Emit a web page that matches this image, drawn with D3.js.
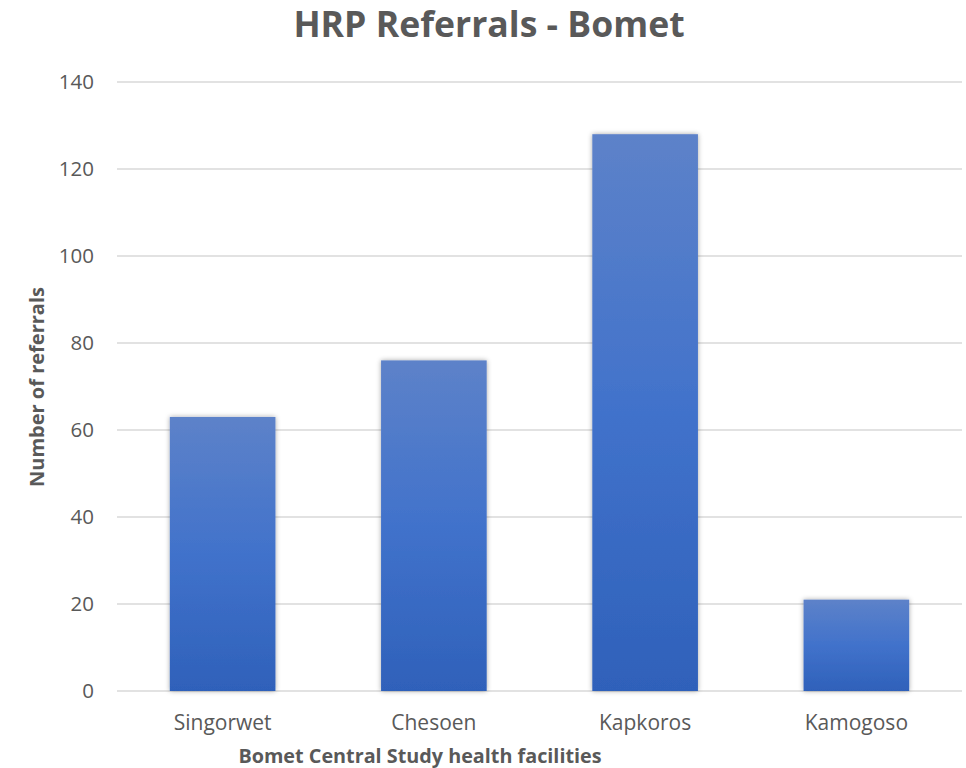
<!DOCTYPE html>
<html><head><meta charset="utf-8">
<script src="https://cdn.jsdelivr.net/npm/d3@7"></script>
<style>body{margin:0;background:#fff;} text{font-family:"Open Sans",sans-serif;}</style>
</head><body>
<svg id="c" width="966" height="768"></svg>
<script>
const categories = ["Singorwet", "Chesoen", "Kapkoros", "Kamogoso"];
const values = [63, 76, 128, 21];
const yTicks = [0, 20, 40, 60, 80, 100, 120, 140];
const title = "HRP Referrals - Bomet";
const xTitle = "Bomet Central Study health facilities";
const yTitle = "Number of referrals";

const svg = d3.select("#c");
const m = {left: 117, right: 4, top: 82, bottom: 77};
const W = 966, H = 768;
const x = d3.scaleBand().domain(categories).range([m.left, W - m.right]).paddingInner(0.5).paddingOuter(0.25);
const y = d3.scaleLinear().domain([0, 140]).range([H - m.bottom, m.top]);

const defs = svg.append("defs");
const g = defs.append("linearGradient").attr("id","bg").attr("x1",0).attr("y1",0).attr("x2",0).attr("y2",1);
g.append("stop").attr("offset","0%").attr("stop-color","#5d82c9");
g.append("stop").attr("offset","50%").attr("stop-color","#4172cb");
g.append("stop").attr("offset","100%").attr("stop-color","#2f61ba");
const f = defs.append("filter").attr("id","sh").attr("x","-20%").attr("y","-20%").attr("width","140%").attr("height","140%");
f.append("feDropShadow").attr("dx",0).attr("dy",0).attr("stdDeviation",2.5).attr("flood-color","#000").attr("flood-opacity",0.35);

// gridlines
svg.append("g").selectAll("line").data(yTicks).join("line")
  .attr("x1", m.left).attr("x2", W - m.right)
  .attr("y1", d => y(d)).attr("y2", d => y(d))
  .attr("stroke", "#d9d9d9").attr("stroke-width", 1.3);

// y labels
svg.append("g").selectAll("text").data(yTicks).join("text")
  .attr("x", 94).attr("y", d => y(d)).attr("dy", "0.35em")
  .attr("text-anchor", "end").attr("font-size", 20.5).attr("fill", "#595959")
  .text(d => d);

// bars
svg.append("g").selectAll("rect").data(values).join("rect")
  .attr("x", (d,i) => x(categories[i])).attr("width", x.bandwidth())
  .attr("y", d => y(d)).attr("height", d => y(0) - y(d))
  .attr("fill", "url(#bg)").attr("filter", "url(#sh)");

// x labels
svg.append("g").selectAll("text").data(categories).join("text")
  .attr("x", d => x(d) + x.bandwidth()/2).attr("y", 730)
  .attr("text-anchor", "middle").attr("font-size", 21).attr("fill", "#595959")
  .text(d => d);

svg.append("text").attr("x", 420).attr("y", 763).attr("text-anchor","middle")
  .attr("font-size", 19.8).attr("font-weight","bold").attr("fill","#595959").text(xTitle);

svg.append("text").attr("transform","translate(44,387) rotate(-90)").attr("text-anchor","middle")
  .attr("font-size", 20).attr("font-weight","bold").attr("fill","#595959").text(yTitle);

svg.append("text").attr("x", 489).attr("y", 37).attr("text-anchor","middle")
  .attr("font-size", 35.6).attr("font-weight","bold").attr("fill","#595959").text(title);
</script>
</body></html>
